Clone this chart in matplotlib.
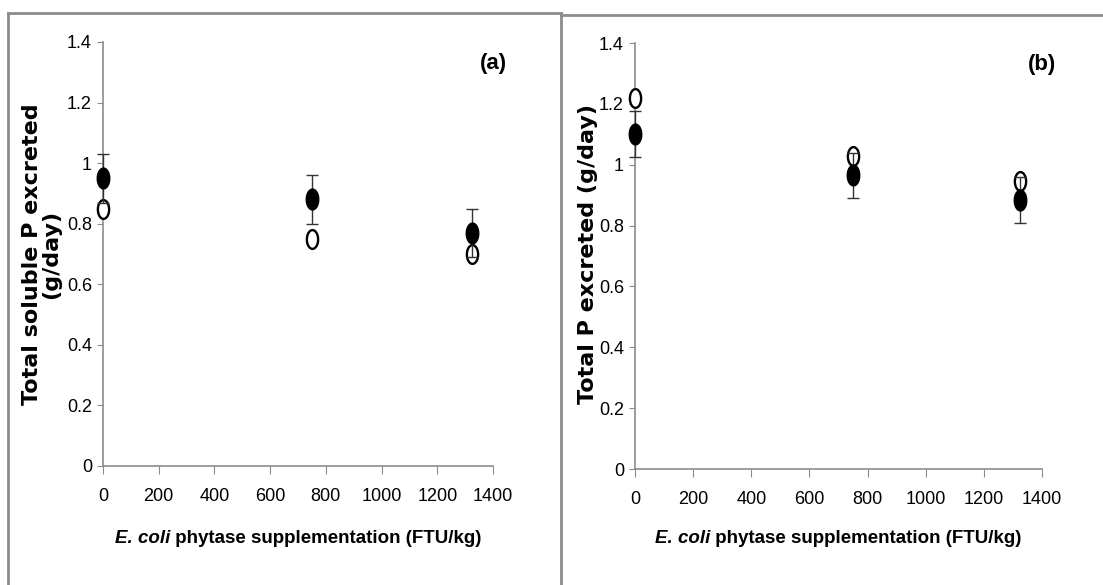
import numpy as np
import matplotlib
matplotlib.use("Agg")
import matplotlib.pyplot as plt
from matplotlib.path import Path
from matplotlib.lines import Line2D

# data
dose = [0, 750, 1325]
# panel (a): total soluble P excreted (g/day)
a_filled = [0.95, 0.88, 0.77]
a_filled_err = [0.08, 0.08, 0.08]
a_open = [0.85, 0.75, 0.70]
# panel (b): total P excreted (g/day)
b_filled = [1.10, 0.965, 0.885]
b_filled_err = [0.075, 0.075, 0.075]
b_open = [1.22, 1.03, 0.945]

yticks = [0, 0.2, 0.4, 0.6, 0.8, 1, 1.2, 1.4]
ytick_labels = ["0", "0.2", "0.4", "0.6", "0.8", "1", "1.2", "1.4"]
xticks = [0, 200, 400, 600, 800, 1000, 1200, 1400]

font = "Liberation Sans"

# tall ellipse marker (the original is squeezed horizontally)
t = np.linspace(0, 2 * np.pi, 60)
ellipse = Path(np.column_stack([0.6 * np.cos(t), np.sin(t)]), closed=True)

W, H = 1103, 585
fig = plt.figure(figsize=(W / 100, H / 100), dpi=100)
renderer = fig.canvas.get_renderer()


def panel(rect, filled, err, opened, ylabel, tag, ylab_x):
    ax = fig.add_axes(rect)
    ax.set_xlim(0, 1400)
    ax.set_ylim(0, 1.4)
    for s in ["top", "right"]:
        ax.spines[s].set_visible(False)
    for s in ["left", "bottom"]:
        ax.spines[s].set_color("#8c8c8c")
        ax.spines[s].set_linewidth(1.2)
    ax.set_yticks(yticks)
    ax.set_yticklabels(ytick_labels)
    ax.set_xticks(xticks)
    ax.tick_params(axis="y", length=4, color="#8c8c8c", pad=4)
    ax.tick_params(axis="x", length=6, color="#8c8c8c", pad=10)
    for lab in ax.get_xticklabels() + ax.get_yticklabels():
        lab.set_fontfamily(font)
        lab.set_fontsize(13)
    ax.plot(dose, opened, linestyle="none", marker=ellipse, markersize=13.5,
            markerfacecolor="white", markeredgecolor="black",
            markeredgewidth=1.7, clip_on=False, zorder=3)
    ax.errorbar(dose, filled, yerr=err, fmt="none", ecolor="#333333",
                elinewidth=1.0, capsize=4, capthick=1.0, clip_on=False, zorder=4)
    ax.plot(dose, filled, linestyle="none", marker=ellipse, markersize=15,
            markerfacecolor="black", markeredgecolor="black", clip_on=False,
            zorder=5)
    ax.text(1.0, 0.95, tag, transform=ax.transAxes, ha="center", va="center",
            fontsize=16, fontweight="bold", fontfamily=font)

    # x-axis title with the italic species name
    cx = rect[0] + rect[2] / 2
    t1 = fig.text(0, 0.08, "E. coli", ha="left", va="center", fontsize=13.5,
                  fontweight="bold", fontstyle="italic", fontfamily=font)
    t2 = fig.text(0, 0.08, " phytase supplementation (FTU/kg)", ha="left",
                  va="center", fontsize=13.5, fontweight="bold", fontfamily=font)
    w1 = t1.get_window_extent(renderer).width / W
    w2 = t2.get_window_extent(renderer).width / W
    x0 = cx - (w1 + w2) / 2
    t1.set_x(x0)
    t2.set_x(x0 + w1)

    fig.text(ylab_x, 0.565, ylabel, rotation=90, ha="center", va="center",
             fontsize=16, fontweight="bold", family="DejaVu Sans",
             multialignment="center", linespacing=0.95)
    return ax


panel([103 / W, 1 - 466 / H, 390 / W, 424 / H], a_filled, a_filled_err, a_open,
      "Total soluble P excreted\n(g/day)", "(a)", 42 / W)
panel([635 / W, 1 - 469 / H, 407 / W, 426 / H], b_filled, b_filled_err, b_open,
      "Total P excreted (g/day)", "(b)", 588 / W)

# grey frames around the two panels
frame = dict(color="#8c8c8c", linewidth=2, transform=None)


def px(x0, y0, x1, y1):
    fig.add_artist(Line2D([x0, x1], [H - y0, H - y1], **frame))


px(8, 13, 561, 13)
px(8, 13, 8, 585)
px(561, 13, 561, 585)
px(561, 15, 1103, 15)

fig.savefig("out.png", dpi=100)
